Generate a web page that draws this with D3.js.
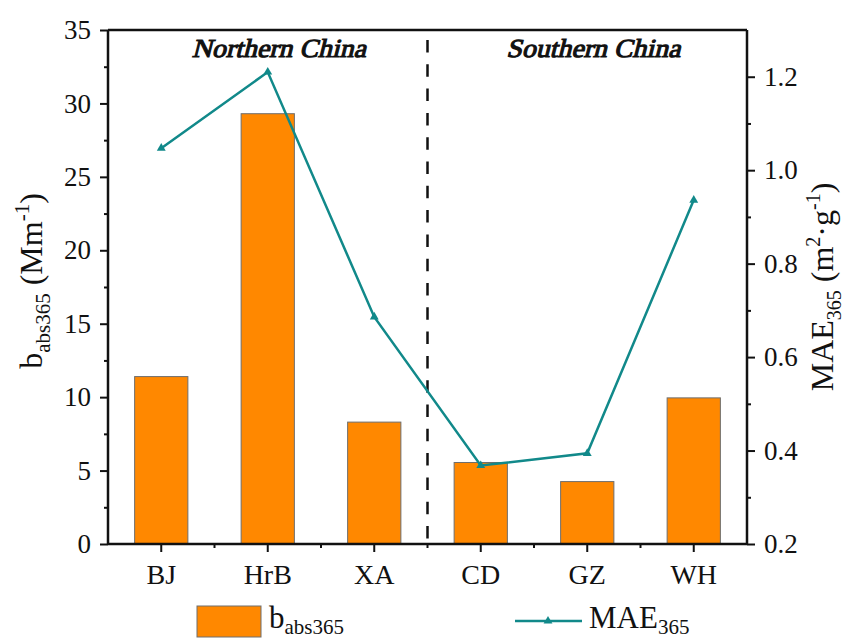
<!DOCTYPE html>
<html><head><meta charset="utf-8">
<script src="https://cdn.jsdelivr.net/npm/d3@7"></script>
<style>
body{margin:0;background:#fff;}
svg text{font-family:"Liberation Serif","Times New Roman",serif;fill:#111;}
</style></head>
<body><svg id="c" width="845" height="641"></svg>
<script>
const categories = ["BJ","HrB","XA","CD","GZ","WH"];
const babs365 = [11.4, 29.3, 8.3, 5.55, 4.25, 9.95];
const mae365 = [1.047, 1.21, 0.686, 0.368, 0.394, 0.936];
const leftTicks = [0,5,10,15,20,25,30,35];
const rightTicks = [0.2,0.4,0.6,0.8,1.0,1.2];
const regions = ["Northern China","Southern China"];

const svg = d3.select("#c");
const L=108, R=747, T=30, B=544;
const orange="#ff8800", teal="#11898a";

const x = d3.scaleBand().domain(categories).range([L,R]).paddingInner(0.5).paddingOuter(0.25);
const y = d3.scaleLinear().domain([0,35]).range([B,T]);
const y2 = d3.scaleLinear().domain([0.2,1.3]).range([B,T]);

// bars
svg.append("g").selectAll("rect").data(categories).join("rect")
  .attr("x",d=>x(d)).attr("width",x.bandwidth())
  .attr("y",(d,i)=>y(babs365[i])).attr("height",(d,i)=>y(0)-y(babs365[i]))
  .attr("fill",orange).attr("stroke","#6e6e6e").attr("stroke-width",1);

// dashed divider
const divX = (x("XA")+x.bandwidth()+x("CD"))/2;
svg.append("line").attr("x1",divX).attr("x2",divX).attr("y1",40).attr("y2",B)
  .attr("stroke","#111").attr("stroke-width",2.5).attr("stroke-dasharray","12.5,11.8");

// line
const cx = d=>x(d)+x.bandwidth()/2;
const lineGen = d3.line().x((d,i)=>cx(categories[i])).y(d=>y2(d));
svg.append("path").datum(mae365).attr("d",lineGen).attr("fill","none")
  .attr("stroke",teal).attr("stroke-width",2.5);
const tri = d3.symbol().type(d3.symbolTriangle).size(34);
svg.append("g").selectAll("path").data(mae365).join("path")
  .attr("d",tri).attr("fill",teal)
  .attr("transform",(d,i)=>`translate(${cx(categories[i])},${y2(d)})`);

// axes
function styleAxis(g){
  g.select(".domain").remove();
  g.selectAll("line").attr("stroke","#111").attr("stroke-width",2);
  g.selectAll("text").style("font-size","27px").style("font-family",'"Liberation Serif",serif').attr("fill","#111");
}
const gl = svg.append("g").attr("transform",`translate(${L},0)`);
gl.call(d3.axisLeft(y).tickValues(leftTicks).tickSize(8).tickPadding(9).tickFormat(d3.format("d"))).call(styleAxis);
gl.append("g").call(d3.axisLeft(y).tickValues(d3.range(2.5,35,5)).tickSize(4).tickFormat("")).call(styleAxis);
const gr = svg.append("g").attr("transform",`translate(${R},0)`);
gr.call(d3.axisRight(y2).tickValues(rightTicks).tickSize(8).tickPadding(9).tickFormat(d3.format(".1f"))).call(styleAxis);
gr.append("g").call(d3.axisRight(y2).tickValues([0.3,0.5,0.7,0.9,1.1]).tickSize(4).tickFormat("")).call(styleAxis);
const gb = svg.append("g").attr("transform",`translate(0,${B})`);
gb.call(d3.axisBottom(x).tickSize(8).tickPadding(12)).call(styleAxis);
gb.selectAll("text").style("font-size","28px");
const bounds = categories.slice(1).map(d=>x(d)-x.step()*x.paddingInner()/2);
gb.append("g").selectAll("line").data(bounds).join("line")
  .attr("x1",d=>d).attr("x2",d=>d).attr("y1",0).attr("y2",4).attr("stroke","#111").attr("stroke-width",2);

// frame
[[L,R,B,B],[L,R,T,T],[L,L,T,B],[R,R,T,B]].forEach(([x1,x2,y1,y2_])=>
  svg.append("line").attr("x1",x1).attr("x2",x2).attr("y1",y1).attr("y2",y2_).attr("stroke","#111").attr("stroke-width",2.5));

// region labels (serif, slanted and emboldened)
const regCenters = [(L+divX)/2+11, (divX+R)/2+6];
svg.selectAll("text.reg").data(regions).join("text").attr("class","reg")
  .attr("transform",(d,i)=>`translate(${regCenters[i]},57) skewX(-14)`)
  .attr("x",0).attr("y",0).attr("text-anchor","middle")
  .style("font-family",'"Liberation Serif",serif')
  .style("font-size","26px").style("font-weight","normal")
  .attr("textLength",174).attr("lengthAdjust","spacingAndGlyphs")
  .attr("stroke","#111").attr("stroke-width",1.1).text(d=>d);

// axis titles
const lt = svg.append("text").attr("transform",`translate(42,${(T+B)/2-6}) rotate(-90)`).attr("text-anchor","middle").style("font-size","32px");
lt.append("tspan").text("b");
lt.append("tspan").attr("dy",8).style("font-size","21px").text("abs365");
lt.append("tspan").attr("dy",-8).text(" (Mm");
lt.append("tspan").attr("dy",-13).style("font-size","21px").text("-1");
lt.append("tspan").attr("dy",13).text(")");

const rt = svg.append("text").attr("transform",`translate(833,${(T+B)/2}) rotate(-90)`).attr("text-anchor","middle").style("font-size","32px");
rt.append("tspan").text("MAE");
rt.append("tspan").attr("dy",8).style("font-size","20px").text("365");
rt.append("tspan").attr("dy",-8).text(" (m");
rt.append("tspan").attr("dy",-13).style("font-size","20px").text("2");
rt.append("tspan").attr("dy",13).text("·g");
rt.append("tspan").attr("dy",-13).style("font-size","20px").text("-1");
rt.append("tspan").attr("dy",13).text(")");

// legend
svg.append("rect").attr("x",197).attr("y",606).attr("width",64).attr("height",31)
  .attr("fill",orange).attr("stroke","#6e6e6e");
const l1 = svg.append("text").attr("x",269).attr("y",628).style("font-size","31px");
l1.append("tspan").text("b");
l1.append("tspan").attr("dy",6).style("font-size","21px").text("abs365");
svg.append("line").attr("x1",515).attr("x2",582).attr("y1",621).attr("y2",621).attr("stroke",teal).attr("stroke-width",2.5);
svg.append("path").attr("d",tri).attr("fill",teal).attr("transform","translate(548,621)");
const l2 = svg.append("text").attr("x",589).attr("y",628).style("font-size","31px");
l2.append("tspan").text("MAE");
l2.append("tspan").attr("dy",6).style("font-size","21px").text("365");
</script></body></html>
